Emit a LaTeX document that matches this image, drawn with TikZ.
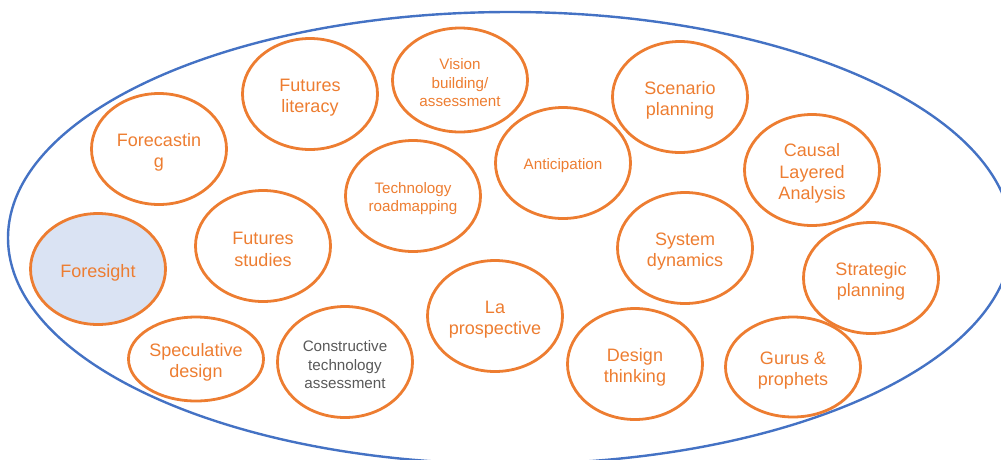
\documentclass[tikz,border=0pt]{standalone}
\usepackage{fontspec}
\setmainfont{Liberation Sans}
\usetikzlibrary{shapes.geometric}

\definecolor{methodorange}{HTML}{ED7D31}
\definecolor{fieldblue}{HTML}{4472C4}
\definecolor{corefill}{HTML}{DAE3F3}
\definecolor{textgray}{HTML}{595959}

% a bit of room above the first line
\newcommand{\toproom}{\rule{0pt}{1.1em}}

\begin{document}
\begin{tikzpicture}[
    x=1pt, y=-1pt,
    method/.style={
        ellipse,
        draw=methodorange,
        line width=2.8pt,
        minimum width=135pt,
        minimum height=111pt,
        inner sep=0pt,
        align=center,
        text=methodorange,
        font=\fontsize{18}{21.7}\selectfont
    },
    small/.style={font=\fontsize{15.2}{18.4}\selectfont},
    core/.style={method, fill=corefill}
]
\useasboundingbox (0,0) rectangle (1001,459);
\clip (0,0) rectangle (1001,459);

% the whole field
\node (field) [ellipse, draw=fieldblue, line width=2.4pt, minimum width=1004pt,
    minimum height=452pt, inner sep=0pt] at (510,238) {};

% methods, top row first
\node (forecast) [method] at (159,149) {\toproom Forecastin\\g};
\node (literacy) [method] at (310,94) {\toproom Futures\\literacy};
\node (vision) [method, small, minimum height=104pt] at (460,80) {\toproom Vision\\building/\\assessment};
\node (scenario) [method] at (680,97) {\toproom Scenario\\planning};
\node (causal) [method] at (812,170) {\toproom Causal\\Layered\\Analysis};
\node (anticip) [method, small] at (563,163) {\toproom Anticipation};
\node (roadmap) [method, small] at (413,196) {\toproom Technology\\roadmapping};
\node (studies) [method] at (263,246) {\toproom Futures\\studies};
\node (foresight) [core] at (98,269) {\toproom Foresight};
\node (sysdyn) [method] at (685,248) {\toproom System\\dynamics};
\node (strategic) [method] at (871,278) {\toproom Strategic\\planning};
\node (prosp) [method] at (495,316) {\toproom La\\prospective};
\node (specul) [method, minimum height=84pt] at (196,359) {\toproom Speculative\\design};
\node (cta) [method, small, text=textgray] at (345,362) {\toproom Constructive\\technology\\assessment};
\node (design) [method] at (635,364) {\toproom Design\\thinking};
\node (gurus) [method, minimum height=100pt] at (793,367) {\toproom Gurus \&\\prophets};

\end{tikzpicture}
\end{document}
